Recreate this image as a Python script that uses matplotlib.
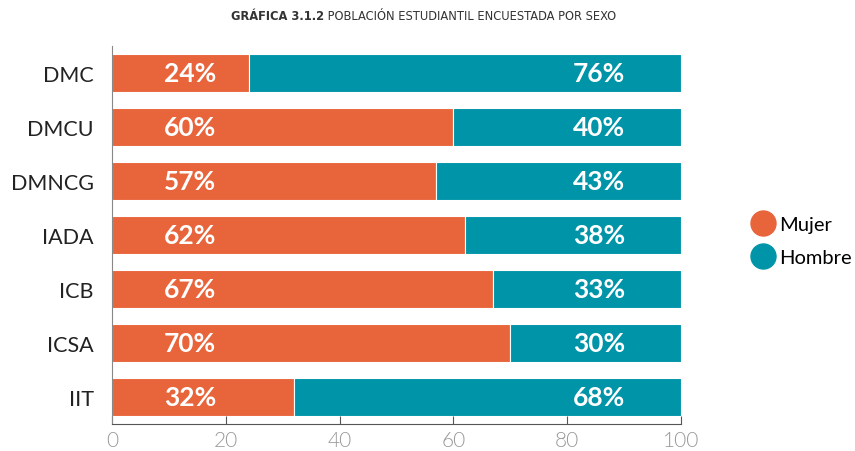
import numpy as np
import matplotlib.pyplot as plt
from matplotlib.lines import Line2D

categorias = ['DMC', 'DMCU', 'DMNCG', 'IADA', 'ICB', 'ICSA', 'IIT']
mujer = [24, 60, 57, 62, 67, 70, 32]
hombre = [76, 40, 43, 38, 33, 30, 68]

c_mujer = '#E8643A'
c_hombre = '#0094A8'

plt.rcParams['font.family'] = ['Lato', 'DejaVu Sans']

fig = plt.figure(figsize=(8.55, 4.52), dpi=100)
ax = fig.add_axes([112/855, 1-425/452, (681-112)/855, (425-47)/452])

y = np.arange(len(categorias))
ax.barh(y, mujer, height=0.7, color=c_mujer, edgecolor='white', linewidth=0.8)
ax.barh(y, hombre, left=mujer, height=0.7, color=c_hombre, edgecolor='white', linewidth=0.8)

for i in range(len(categorias)):
    ax.text(13.7, y[i], f'{mujer[i]}%', color='white', fontsize=19, fontweight='bold',
            ha='center', va='center')
    ax.text(85.6, y[i], f'{hombre[i]}%', color='white', fontsize=19, fontweight='bold',
            ha='center', va='center')

ax.set_ylim(len(categorias) - 0.5, -0.5)
ax.set_xlim(0, 100)
ax.set_yticks(y)
ax.set_yticklabels(categorias, fontsize=15.5, color='#222222')
ax.set_xticks([0, 20, 40, 60, 80, 100])
ax.tick_params(axis='x', direction='in', length=6, color='#555555', labelsize=15,
               labelcolor='#999999', pad=4)
ax.tick_params(axis='y', length=0, pad=13)
for lbl in ax.get_xticklabels():
    lbl.set_fontweight(300)
for s in ['top', 'right']:
    ax.spines[s].set_visible(False)
ax.spines['bottom'].set_color('#555555')
ax.spines['left'].set_color('#888888')
ax.spines['left'].set_linewidth(0.8)

handles = [Line2D([], [], marker='o', linestyle='', markersize=18, color=c_mujer),
           Line2D([], [], marker='o', linestyle='', markersize=18, color=c_hombre)]
fig.legend(handles, ['Mujer', 'Hombre'], loc='center left', bbox_to_anchor=(747/855, 1-242/452),
           frameon=False, fontsize=14.5, handletextpad=0.0, labelspacing=0.75,
           borderpad=0, borderaxespad=0, handlelength=1.6)

title_font = ['DejaVu Sans', 'Lato']
fig.text(324/855, 1-17/452, 'GRÁFICA 3.1.2', ha='right', va='center', fontsize=9.2,
         fontweight='bold', color='#333333', family=title_font, fontstretch='condensed')
fig.text(324/855, 1-17/452, ' POBLACIÓN ESTUDIANTIL ENCUESTADA POR SEXO', ha='left', va='center',
         fontsize=9.2, color='#333333', family=title_font, fontstretch='condensed')

fig.savefig('out.png', dpi=100)
